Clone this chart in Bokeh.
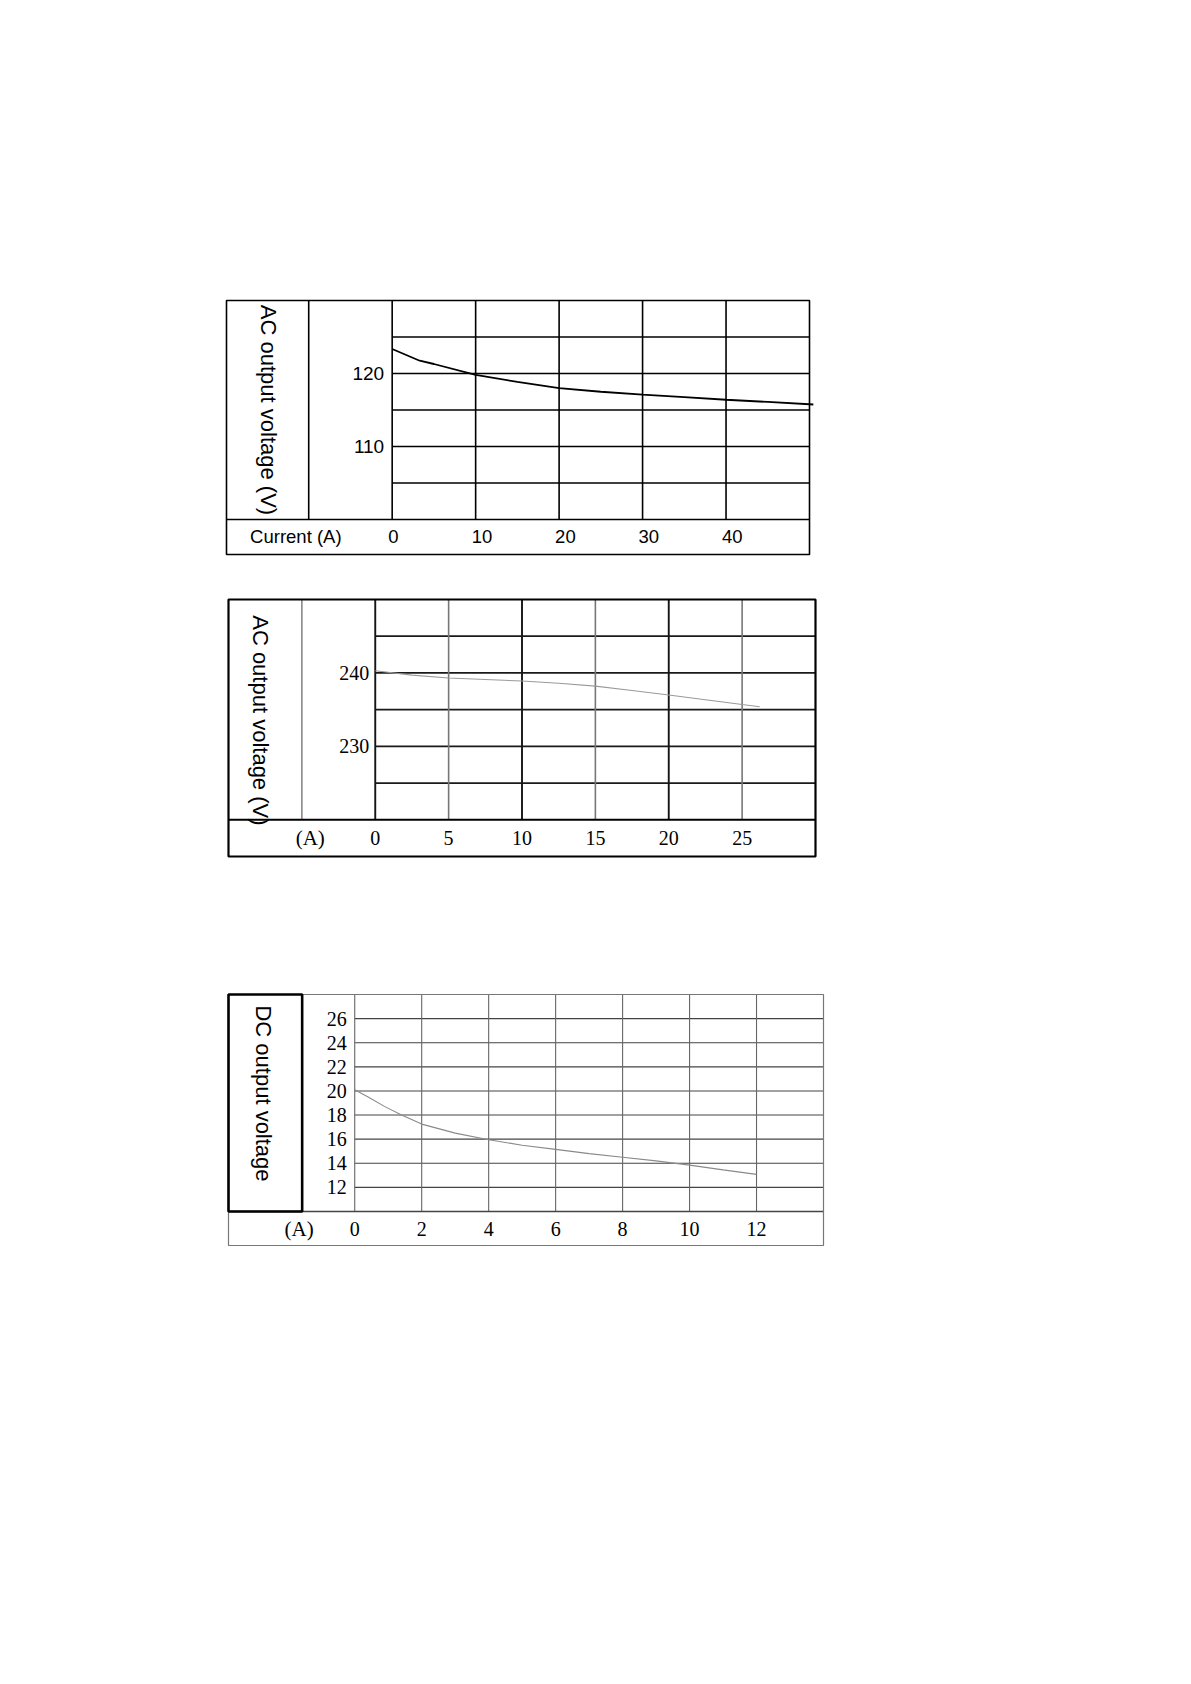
import math
from bokeh.plotting import figure
from bokeh.models import Range1d
from bokeh.layouts import column
from bokeh.embed import file_html
from bokeh.resources import INLINE
from bokeh.core.properties import value

# ---------------- data ----------------
# Chart 1: AC output voltage, 120 V model
ac1_current = [0, 3.3, 5, 10, 15, 20, 25, 30, 35, 40, 45, 50.5]
ac1_voltage = [123.35, 121.75, 121.3, 119.8, 118.85, 118.0, 117.5, 117.1, 116.75, 116.4, 116.1, 115.75]
ac1_xticks = [0, 10, 20, 30, 40]
ac1_xgrid = [0, 10, 20, 30, 40]
ac1_yticks = [110, 120]
ac1_ygrid = [105, 110, 115, 120, 125]
ac1_ylabel = "AC output voltage (V)"
ac1_xlabel = "Current (A)"

# Chart 2: AC output voltage, 240 V model
ac2_current = [0, 2.5, 5, 7.5, 10, 12.5, 15, 17.5, 20, 22.5, 25, 26.2]
ac2_voltage = [240.3, 239.7, 239.3, 239.1, 238.9, 238.6, 238.2, 237.6, 237.0, 236.35, 235.7, 235.4]
ac2_xticks = [0, 5, 10, 15, 20, 25]
ac2_xgrid_light = [5, 15, 25]
ac2_xgrid_dark = [0, 10, 20]
ac2_yticks = [230, 240]
ac2_ygrid = [225, 230, 235, 240, 245]
ac2_ylabel = "AC output voltage (V)"
ac2_xlabel = "(A)"

# Chart 3: DC output voltage
dc_current = [0, 0.4, 0.9, 1.4, 2, 3, 4, 5, 6, 7, 8, 9, 10, 11, 12]
dc_voltage = [20.1, 19.5, 18.7, 18.0, 17.25, 16.5, 15.95, 15.5, 15.15, 14.8, 14.5, 14.2, 13.85, 13.45, 13.08]
dc_xticks = [0, 2, 4, 6, 8, 10, 12]
dc_xgrid = [0, 2, 4, 6, 8, 10, 12]
dc_yticks = [12, 14, 16, 18, 20, 22, 24, 26]
dc_ygrid = [12, 14, 16, 18, 20, 22, 24, 26]
dc_ylabel = "DC output voltage"
dc_xlabel = "(A)"

SANS = value("Liberation Sans")
SERIF = value("Liberation Serif")
PAD = 4


def make_fig(xl, xr, yb, yt, sx, sy, top, bottom=20, right=20, pad_left=PAD):
    fw = int(round((xr - xl) * sx)) + pad_left + PAD
    fh = int(round((yt - yb) * sy)) + 2 * PAD
    p = figure(frame_width=fw, frame_height=fh,
               x_range=Range1d(xl - pad_left / sx, xr + PAD / sx),
               y_range=Range1d(yb - PAD / sy, yt + PAD / sy),
               x_axis_location=None, y_axis_location=None,
               output_backend="svg", toolbar_location=None,
               min_border_left=224, min_border_top=top - PAD,
               min_border_bottom=bottom, min_border_right=right)
    p.xgrid.grid_line_color = None
    p.ygrid.grid_line_color = None
    p.outline_line_color = None
    p.background_fill_color = "white"
    p.border_fill_color = "white"
    return p


def vlines(p, xs, y0, y1, color, width):
    p.multi_line(xs=[[x, x] for x in xs], ys=[[y0, y1] for _ in xs],
                 line_color=color, line_width=width)


def hlines(p, ys, x0, x1, color, width):
    p.multi_line(xs=[[x0, x1] for _ in ys], ys=[[y, y] for y in ys],
                 line_color=color, line_width=width)


# ---------------- chart 1 ----------------
X1L, X1R, Y1B, Y1T, ROW1 = -19.85, 50, 95.2, 130, 100
DIV1 = -10
p1 = make_fig(X1L, X1R, Y1B, Y1T, 8.35, 7.3, top=300, bottom=20, right=22, pad_left=2)
p1.quad(left=[X1L], right=[X1R], bottom=[Y1B], top=[Y1T], fill_color=None,
        line_color="black", line_width=1.6)
hlines(p1, [ROW1], X1L, X1R, "black", 1.6)
vlines(p1, [DIV1], ROW1, Y1T, "black", 1.6)
vlines(p1, ac1_xgrid, ROW1, Y1T, "black", 1.6)
hlines(p1, ac1_ygrid, 0, X1R, "black", 1.6)
p1.line(ac1_current, ac1_voltage, line_color="black", line_width=1.8)
row1_mid = (ROW1 + Y1B) / 2
p1.text(x=[0] * len(ac1_yticks), y=ac1_yticks, text=[str(v) for v in ac1_yticks],
        text_font=SANS, text_font_size="19px", text_align="right",
        text_baseline="middle", x_offset=-8, text_color="black")
p1.text(x=ac1_xticks, y=[row1_mid] * len(ac1_xticks), text=[str(v) for v in ac1_xticks],
        text_font=SANS, text_font_size="18.5px", text_align="left",
        text_baseline="middle", x_offset=-4, text_color="black")
p1.text(x=[-11.54], y=[row1_mid], text=[ac1_xlabel], text_font=SANS,
        text_font_size="18.5px", text_align="center", text_baseline="middle",
        text_color="black")
p1.text(x=[-14.85], y=[(ROW1 + Y1T) / 2], text=[ac1_ylabel], angle=-math.pi / 2,
        text_font=SANS, text_font_size="22px", text_align="center",
        text_baseline="middle", text_color="black")

# ---------------- chart 2 ----------------
X2L, X2R, Y2B, Y2T, ROW2 = -10, 30, 215, 250, 220
DIV2 = -5
p2 = make_fig(X2L, X2R, Y2B, Y2T, 14.68, 7.35, top=21, bottom=20)
hlines(p2, ac2_ygrid, 0, X2R, "#1a1a1a", 1.8)
vlines(p2, ac2_xgrid_light, ROW2, Y2T, "#777777", 1.6)
vlines(p2, ac2_xgrid_dark, ROW2, Y2T, "#151515", 1.9)
vlines(p2, [DIV2], ROW2, Y2T, "#888888", 1.6)
hlines(p2, [ROW2], X2L, X2R, "black", 2.0)
p2.quad(left=[X2L], right=[X2R], bottom=[Y2B], top=[Y2T], fill_color=None,
        line_color="black", line_width=2.2)
p2.line(ac2_current, ac2_voltage, line_color="#9a9a9a", line_width=1.1)
row2_mid = (ROW2 + Y2B) / 2
p2.text(x=[0] * len(ac2_yticks), y=ac2_yticks, text=[str(v) for v in ac2_yticks],
        text_font=SERIF, text_font_size="20px", text_align="right",
        text_baseline="middle", x_offset=-6, text_color="black")
p2.text(x=ac2_xticks, y=[row2_mid] * len(ac2_xticks), text=[str(v) for v in ac2_xticks],
        text_font=SERIF, text_font_size="20px", text_align="center",
        text_baseline="middle", text_color="black")
p2.text(x=[-4.43], y=[row2_mid], text=[ac2_xlabel], text_font=SERIF,
        text_font_size="21px", text_align="center", text_baseline="middle",
        text_color="black")
p2.text(x=[-7.83], y=[247.86], text=[ac2_ylabel], angle=-math.pi / 2,
        text_font=SANS, text_font_size="22px", text_align="left",
        text_baseline="middle", text_color="black")

# ---------------- chart 3 ----------------
X3L, X3R, Y3B, Y3T, ROW3 = -3.77, 14, 7.18, 28, 10
LAB3 = -1.57
p3 = make_fig(X3L, X3R, Y3B, Y3T, 33.47, 12.07, top=114, bottom=20)
hlines(p3, dc_ygrid, 0, X3R, "#444444", 1.1)
vlines(p3, dc_xgrid, ROW3, Y3T, "#666666", 1.1)
hlines(p3, [ROW3], X3L, X3R, "#444444", 1.3)
p3.quad(left=[X3L], right=[X3R], bottom=[Y3B], top=[Y3T], fill_color=None,
        line_color="#777777", line_width=1.2)
p3.quad(left=[X3L], right=[LAB3], bottom=[ROW3], top=[Y3T], fill_color=None,
        line_color="black", line_width=2.6)
p3.line(dc_current, dc_voltage, line_color="#8a8a8a", line_width=1.1)
row3_mid = (ROW3 + Y3B) / 2
p3.text(x=[0] * len(dc_yticks), y=dc_yticks, text=[str(v) for v in dc_yticks],
        text_font=SERIF, text_font_size="20px", text_align="right",
        text_baseline="middle", x_offset=-8, text_color="black")
p3.text(x=dc_xticks, y=[row3_mid] * len(dc_xticks), text=[str(v) for v in dc_xticks],
        text_font=SERIF, text_font_size="20px", text_align="center",
        text_baseline="middle", text_color="black")
p3.text(x=[-1.66], y=[row3_mid], text=[dc_xlabel], text_font=SERIF,
        text_font_size="21px", text_align="center", text_baseline="middle",
        text_color="black")
p3.text(x=[-2.72], y=[27.09], text=[dc_ylabel], angle=-math.pi / 2,
        text_font=SANS, text_font_size="22px", text_align="left",
        text_baseline="middle", text_color="black")

layout = column(p1, p2, p3)
open("out.html", "w").write(file_html(layout, INLINE))
